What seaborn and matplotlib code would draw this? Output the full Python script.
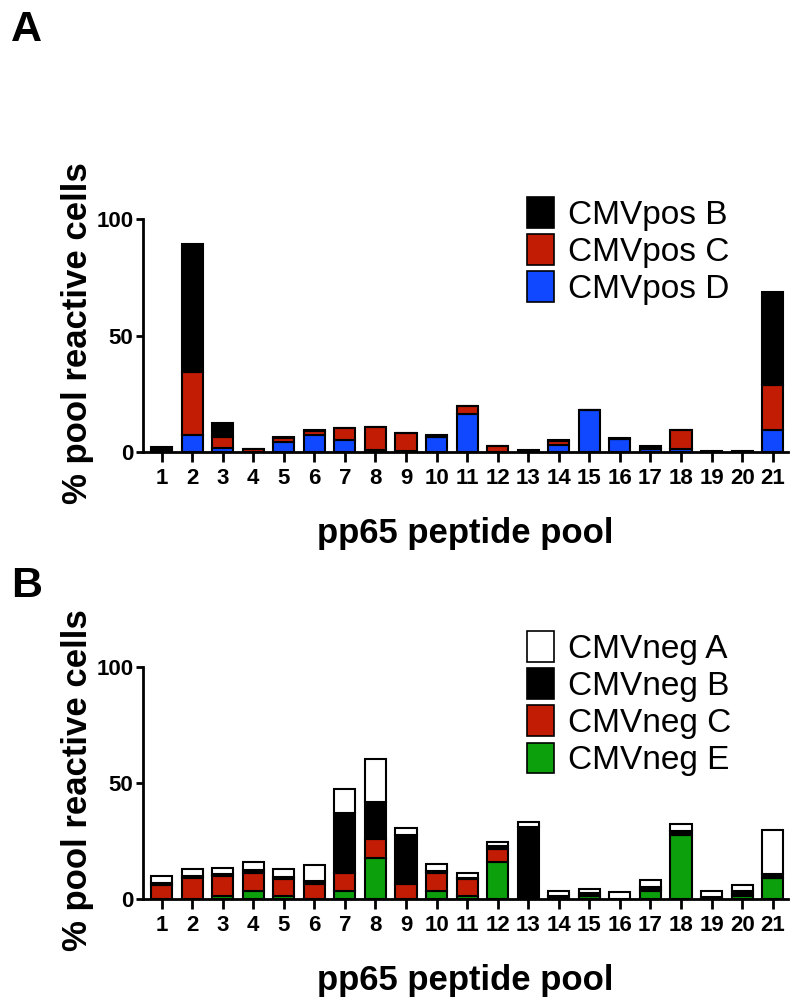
import numpy as np
import pandas as pd
import matplotlib.pyplot as plt
import seaborn as sns
from matplotlib.patches import Patch

pools = list(range(1, 22))

# panel A - CMV positive donors (% of pool reactive cells)
pos_b = [1.8, 55.0, 6.2, 0.0, 0.3, 0.3, 0.0, 0.0, 0.0, 0.8, 0.0,
         0.3, 0.8, 0.3, 0.3, 0.3, 1.2, 0.0, 0.7, 0.3, 40.0]
pos_c = [0.3, 27.0, 4.7, 1.4, 1.8, 1.6, 4.9, 10.0, 8.0, 0.0, 3.1,
         2.5, 0.0, 1.8, 0.0, 0.0, 0.0, 7.9, 0.0, 0.0, 19.6]
pos_d = [0.0, 7.5, 1.7, 0.0, 4.2, 7.4, 5.3, 0.8, 0.3, 6.4, 16.5,
         0.0, 0.0, 2.9, 17.9, 5.7, 1.4, 1.4, 0.0, 0.0, 9.3]

# panel B - CMV negative donors
neg_a = [2.7, 2.9, 2.5, 3.4, 3.3, 6.7, 10.3, 18.4, 3.2, 3.0, 2.3,
         1.6, 2.2, 2.3, 1.9, 2.9, 2.9, 3.1, 2.6, 2.7, 18.6]
neg_b = [1.2, 0.8, 0.9, 1.0, 1.1, 1.2, 26.1, 15.8, 20.9, 0.9, 0.7,
         1.0, 31.1, 1.3, 1.4, 0.3, 0.7, 1.5, 1.0, 1.2, 1.7]
neg_c = [6.0, 9.2, 8.6, 7.9, 7.2, 6.7, 7.5, 8.3, 6.6, 7.7, 7.1,
         6.0, 0.0, 0.0, 0.0, 0.0, 1.0, 0.0, 0.0, 1.1, 0.0]
neg_e = [0.0, 0.0, 1.3, 3.6, 1.3, 0.0, 3.6, 17.8, 0.0, 3.6, 1.4,
         15.8, 0.0, 0.0, 1.3, 0.0, 3.6, 27.8, 0.0, 1.3, 9.3]

BLACK = "#000000"
RED = "#c21c04"
BLUE = "#0f48ff"
GREEN = "#0ca00c"
WHITE = "#ffffff"

FONT = "Liberation Sans"
plt.rcParams["font.family"] = [FONT, "DejaVu Sans"]


def to_long(series):
    rows = []
    for name, vals in series.items():
        for p, v in zip(pools, vals):
            rows.append({"pool": p, "donor": name, "value": v})
    return pd.DataFrame(rows)


def stacked_panel(ax, series, colors):
    df = to_long(series)
    names = list(series.keys())
    # first hue level ends up on top of the stack
    sns.histplot(data=df, x="pool", weights="value", hue="donor",
                 hue_order=names, palette=dict(zip(names, colors)),
                 multiple="stack", discrete=True, shrink=0.69, alpha=1,
                 edgecolor="black", linewidth=1.5, legend=False, ax=ax)

    ax.set_xlim(0.4, 21.5)
    ax.set_ylim(0, 100)
    ax.set_yticks([0, 50, 100])
    ax.set_xticks(pools)
    ax.set_xticklabels([str(p) for p in pools])
    sns.despine(ax=ax)
    for s in ["left", "bottom"]:
        ax.spines[s].set_linewidth(2)
    ax.tick_params(axis="x", length=7.5, width=2, pad=4, labelsize=16)
    ax.tick_params(axis="y", length=5, width=2, pad=2, labelsize=16)
    for lab in ax.get_xticklabels() + ax.get_yticklabels():
        lab.set_fontweight("bold")

    ax.set_ylabel("% pool reactive cells", fontsize=25, fontweight="bold")
    ax.set_xlabel("pp65 peptide pool", fontsize=25, fontweight="bold")
    ax.yaxis.set_label_coords(-0.077, 0.51)
    ax.xaxis.set_label_coords(0.5, -0.28)

    handles = [Patch(facecolor=c, edgecolor="black", linewidth=1.2) for c in colors]
    return handles


fig = plt.figure(figsize=(8, 10.07), dpi=100)
ax_a = fig.add_axes([0.179, 0.551, 0.806, 0.2315])
ax_b = fig.add_axes([0.179, 0.107, 0.806, 0.231])

h_a = stacked_panel(ax_a, {"CMVpos B": pos_b, "CMVpos C": pos_c, "CMVpos D": pos_d},
                    [BLACK, RED, BLUE])
h_b = stacked_panel(ax_b, {"CMVneg A": neg_a, "CMVneg B": neg_b,
                           "CMVneg C": neg_c, "CMVneg E": neg_e},
                    [WHITE, BLACK, RED, GREEN])

leg_kw = dict(loc="upper left", frameon=False, fontsize=24, borderpad=0,
              borderaxespad=0, handlelength=0.8, handleheight=1.05,
              handletextpad=0.42, labelspacing=0.1)
ax_a.legend(h_a, ["CMVpos B", "CMVpos C", "CMVpos D"],
            bbox_to_anchor=(527 / 800, 1 - 197 / 1007),
            bbox_transform=fig.transFigure, **leg_kw)
ax_b.legend(h_b, ["CMVneg A", "CMVneg B", "CMVneg C", "CMVneg E"],
            bbox_to_anchor=(527 / 800, 1 - 631 / 1007),
            bbox_transform=fig.transFigure, **leg_kw)

fig.text(0.014, 0.99, "A", fontsize=31, fontweight="bold", va="top", ha="left")
fig.text(0.014, 0.438, "B", fontsize=31, fontweight="bold", va="top", ha="left")

fig.savefig("out.png", dpi=100)
